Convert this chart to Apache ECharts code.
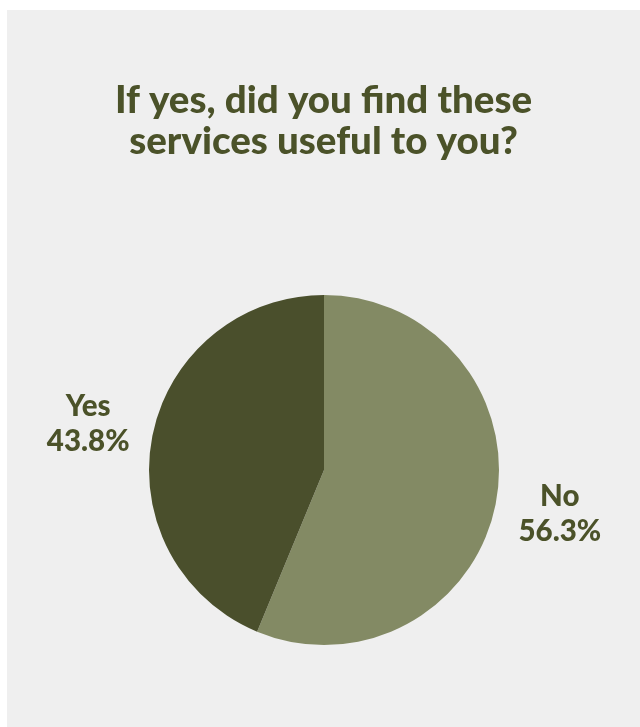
<!DOCTYPE html>
<html>
<head>
<meta charset="utf-8">
<script src="https://cdn.jsdelivr.net/npm/echarts@6/dist/echarts.min.js"></script>
<style>
  html, body { margin: 0; padding: 0; background: #ffffff; }
  #chart { position: absolute; left: 7px; top: 10px; width: 633px; height: 717px; background: #efefef; }
</style>
</head>
<body>
<div id="chart"></div>
<script>
// Survey answers, in percent
const answers = ['No', 'Yes'];
const shares = [56.3, 43.8];
const sliceColors = ['#838a64', '#4a4f2c'];

const textColor = '#4b5229';
const fontFamily = 'Lato, "Open Sans", sans-serif';

const chart = echarts.init(document.getElementById('chart'), null, { renderer: 'canvas' });

chart.setOption({
  backgroundColor: '#efefef',
  animation: false,
  title: {
    text: 'If yes, did you find these\nservices useful to you?',
    left: 'center',
    top: 65,
    textStyle: {
      color: textColor,
      fontFamily: fontFamily,
      fontWeight: 900,
      fontSize: 38.5,
      lineHeight: 41
    }
  },
  series: [{
    type: 'pie',
    center: [317, 460],
    radius: 175,
    startAngle: 90,
    clockwise: true,
    data: answers.map((name, i) => ({
      name: name,
      value: shares[i],
      itemStyle: { color: sliceColors[i] }
    })),
    label: {
      show: true,
      position: 'outside',
      formatter: p => p.name + '\n' + p.value.toFixed(1) + '%',
      color: textColor,
      fontFamily: fontFamily,
      fontWeight: 900,
      fontSize: 29.5,
      lineHeight: 35
    },
    labelLine: { show: false, length: 12, length2: 4 },
    labelLayout: function (params) {
      const r = params.labelRect;
      const onLeft = r.x + r.width / 2 < 317;
      // left label sits a little higher, right label a little lower
      return {
        x: r.x + r.width / 2 + (onLeft ? -2 : 2),
        y: r.y + r.height / 2 + (onLeft ? -10 : 8),
        align: 'center',
        verticalAlign: 'middle'
      };
    },
    emphasis: { disabled: true }
  }]
});
</script>
</body>
</html>
